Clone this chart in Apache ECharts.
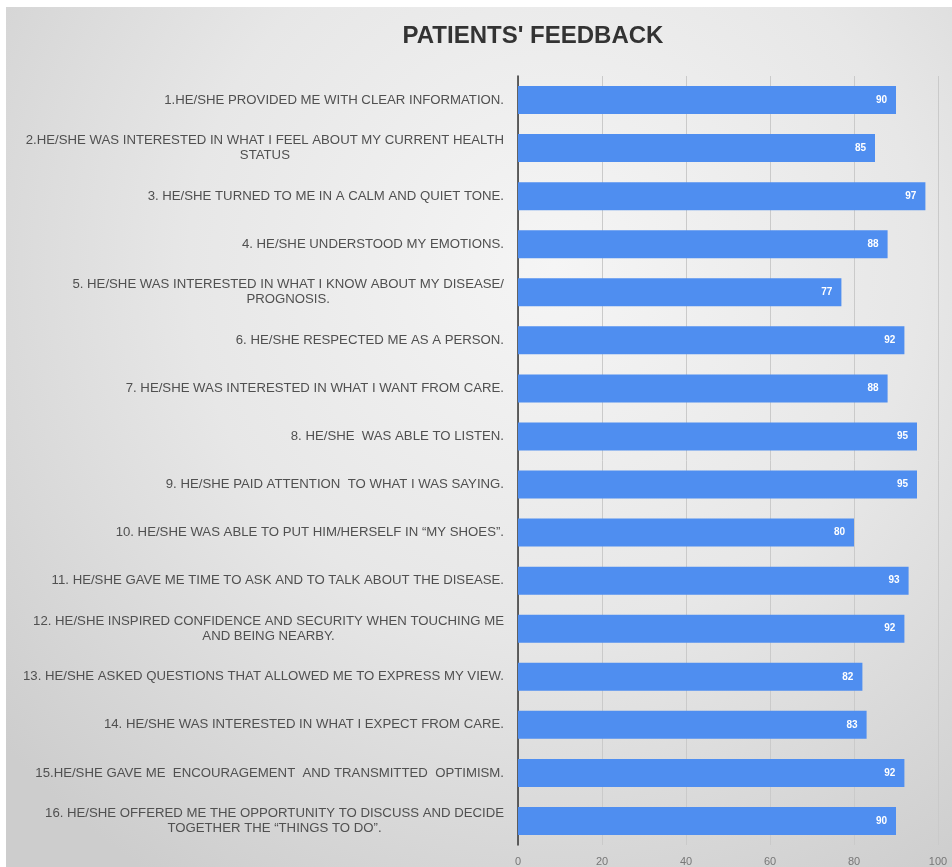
<!DOCTYPE html>
<html>
<head>
<meta charset="utf-8">
<script src="https://cdn.jsdelivr.net/npm/echarts@6/dist/echarts.min.js"></script>
<style>
  html, body { margin: 0; padding: 0; background: #ffffff; }
  #chart { width: 952px; height: 867px; }
</style>
</head>
<body>
<div id="chart"></div>
<script>
// Survey statements, top to bottom
const statements = [
  '1.HE/SHE PROVIDED ME WITH CLEAR INFORMATION.',
  '2.HE/SHE WAS INTERESTED IN WHAT I FEEL ABOUT MY CURRENT HEALTH\nSTATUS',
  '3. HE/SHE TURNED TO ME IN A CALM AND QUIET TONE.',
  '4. HE/SHE UNDERSTOOD MY EMOTIONS.',
  '5. HE/SHE WAS INTERESTED IN WHAT I KNOW ABOUT MY DISEASE/\nPROGNOSIS.',
  '6. HE/SHE RESPECTED ME AS A PERSON.',
  '7. HE/SHE WAS INTERESTED IN WHAT I WANT FROM CARE.',
  '8. HE/SHE  WAS ABLE TO LISTEN.',
  '9. HE/SHE PAID ATTENTION  TO WHAT I WAS SAYING.',
  '10. HE/SHE WAS ABLE TO PUT HIM/HERSELF IN \u201CMY SHOES\u201D.',
  '11. HE/SHE GAVE ME TIME TO ASK AND TO TALK ABOUT THE DISEASE.',
  '12. HE/SHE INSPIRED CONFIDENCE AND SECURITY WHEN TOUCHING ME\nAND BEING NEARBY.',
  '13. HE/SHE ASKED QUESTIONS THAT ALLOWED ME TO EXPRESS MY VIEW.',
  '14. HE/SHE WAS INTERESTED IN WHAT I EXPECT FROM CARE.',
  '15.HE/SHE GAVE ME  ENCOURAGEMENT  AND TRANSMITTED  OPTIMISM.',
  '16. HE/SHE OFFERED ME THE OPPORTUNITY TO DISCUSS AND DECIDE\nTOGETHER THE \u201CTHINGS TO DO\u201D.'
];

// Score for each statement
const scores = [90, 85, 97, 88, 77, 92, 88, 95, 95, 80, 93, 92, 82, 83, 92, 90];

// Value axis range
const axisMin = 0;
const axisMax = 100;
const axisStep = 20;

const chart = echarts.init(document.getElementById('chart'));

chart.setOption({
  animation: false,
  backgroundColor: '#ffffff',
  graphic: [{
    type: 'rect',
    z: -10,
    silent: true,
    shape: { x: 6, y: 7, width: 946, height: 860 },
    style: {
      fill: {
        type: 'radial', x: 0.58, y: 0.3, r: 0.85,
        colorStops: [
          { offset: 0, color: '#f5f5f5' },
          { offset: 0.5, color: '#e7e7e7' },
          { offset: 1, color: '#cdcdcd' }
        ]
      }
    }
  }],
  title: {
    text: "PATIENTS' FEEDBACK",
    left: 528,
    top: 19,
    textAlign: 'center',
    textStyle: {
      fontFamily: 'Liberation Sans',
      fontSize: 24,
      fontWeight: 'bold',
      color: '#333333'
    }
  },
  grid: { left: 518, right: 14, top: 76, bottom: 20, containLabel: false },
  xAxis: {
    type: 'value',
    min: axisMin,
    max: axisMax,
    interval: axisStep,
    axisLine: { show: false },
    axisTick: { show: false },
    splitLine: { show: true, lineStyle: { color: '#cacaca', width: 1 } },
    axisLabel: {
      color: '#777777',
      fontFamily: 'Liberation Sans',
      fontSize: 11,
      margin: 11
    }
  },
  yAxis: {
    type: 'category',
    inverse: true,
    data: statements,
    axisLine: { show: true, lineStyle: { color: '#333333', width: 1.5 } },
    axisTick: { show: false },
    axisLabel: {
      margin: 14,
      interval: 0,
      formatter: function (v) {
        return v.split('\n').map(function (l) { return '{t|' + l + '}'; }).join('\n');
      },
      rich: {
        t: {
          align: 'center',
          color: '#505050',
          fontFamily: 'Liberation Sans',
          fontSize: 13.2,
          lineHeight: 15
        }
      }
    }
  },
  series: [{
    type: 'bar',
    data: scores,
    barWidth: 28,
    itemStyle: { color: '#4f8ef0' },
    label: {
      show: true,
      position: 'insideRight',
      distance: 9,
      color: '#ffffff',
      fontFamily: 'Liberation Sans',
      fontWeight: 'bold',
      fontSize: 10
    }
  }]
});
</script>
</body>
</html>
